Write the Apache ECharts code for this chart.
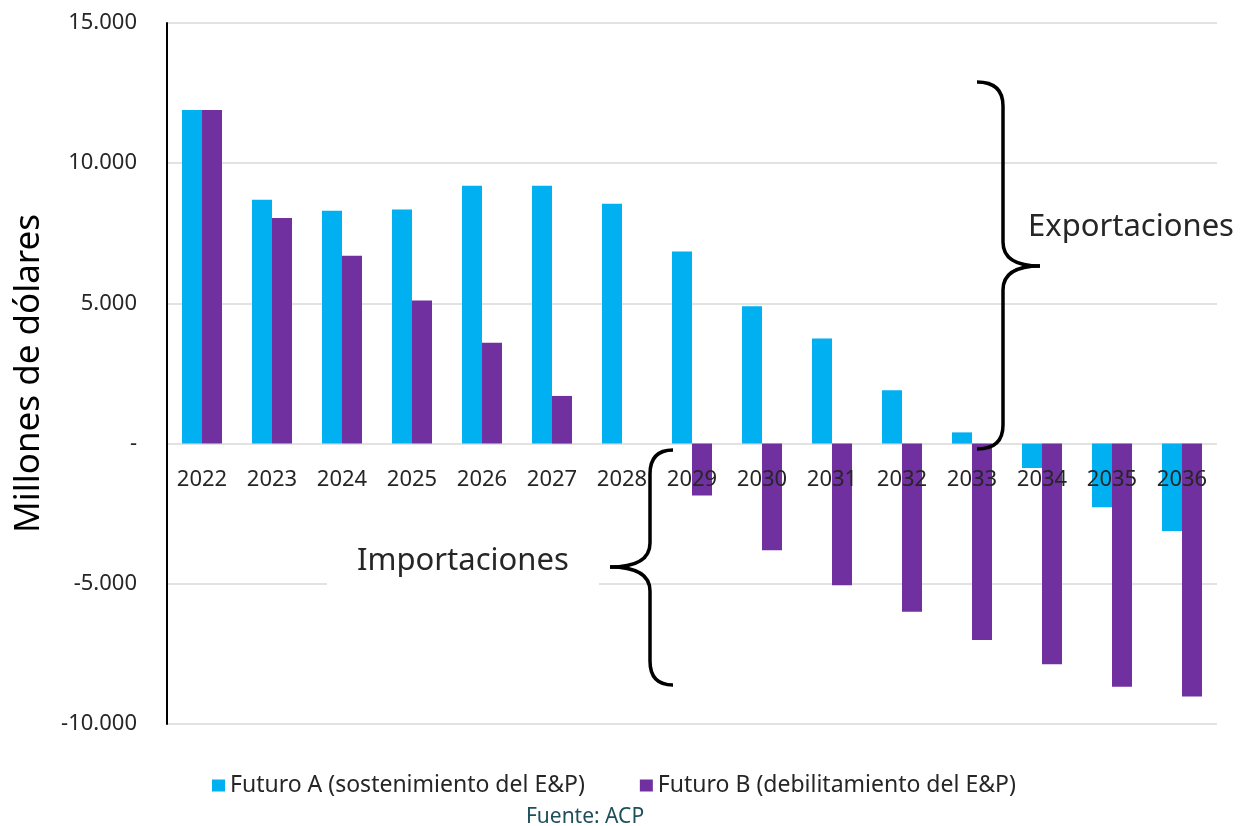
<!DOCTYPE html>
<html>
<head>
<meta charset="utf-8">
<title>Exportaciones / Importaciones</title>
<script src="https://cdn.jsdelivr.net/npm/echarts@6/dist/echarts.min.js"></script>
<style>
  html, body { margin: 0; padding: 0; background: #fff; }
  #chart { width: 1251px; height: 826px; }
</style>
</head>
<body>
<div id="chart"></div>
<script>
// datos (millones de dólares)
const years = ['2022', '2023', '2024', '2025', '2026', '2027', '2028', '2029',
  '2030', '2031', '2032', '2033', '2034', '2035', '2036'];
const futuroA = [11900, 8700, 8300, 8350, 9200, 9200, 8550, 6850,
  4900, 3750, 1900, 400, -870, -2270, -3120];
const futuroB = [11900, 8050, 6700, 5100, 3600, 1700, 0, -1850,
  -3800, -5050, -6000, -7000, -7870, -8670, -9020];
const seriesNames = ['Futuro A (sostenimiento del E&P)', 'Futuro B (debilitamiento del E&P)'];
const yTicks = [-10000, -5000, 0, 5000, 10000, 15000];
const yTickLabels = ['-10.000', '-5.000', '-', '5.000', '10.000', '15.000'];

const FONT = '"Noto Sans", "Open Sans", sans-serif';
const TEXT = '#262626';
const GRID = '#d9d9d9';

// llave: extremos en (xEnd, y0) y (xEnd, y1), barra vertical en xBar, punta en (xTip, yTip)
function brace(xEnd, xBar, xTip, y0, yTip, y1) {
  const r = 24;
  const st = { fill: 'none', stroke: '#000', lineWidth: 3.5 };
  const curve = (x1, y1_, cx, cy, x2, y2) => ({
    type: 'bezierCurve', z: 10, silent: true,
    shape: { x1: x1, y1: y1_, cpx1: cx, cpy1: cy, x2: x2, y2: y2 }, style: st
  });
  const line = (x1, y1_, x2, y2) => ({
    type: 'line', z: 10, silent: true,
    shape: { x1: x1, y1: y1_, x2: x2, y2: y2 }, style: st
  });
  return [
    curve(xEnd, y0, xBar, y0, xBar, y0 + r),
    line(xBar, y0 + r, xBar, yTip - r),
    curve(xBar, yTip - r, xBar, yTip, xTip, yTip),
    curve(xTip, yTip, xBar, yTip, xBar, yTip + r),
    line(xBar, yTip + r, xBar, y1 - r),
    curve(xBar, y1 - r, xBar, y1, xEnd, y1)
  ];
}

const chart = echarts.init(document.getElementById('chart'));

const option = {
  animation: false,
  backgroundColor: '#fff',
  textStyle: { fontFamily: FONT },
  grid: { left: 167, right: 34, top: 23, bottom: 102, containLabel: false },
  legend: {
    data: seriesNames,
    top: 769,
    left: 207,
    icon: 'rect',
    itemWidth: 13,
    itemHeight: 12,
    itemGap: 55,
    textStyle: { fontFamily: FONT, fontSize: 23, color: TEXT }
  },
  xAxis: {
    type: 'category',
    data: years,
    position: 'bottom',
    offset: 0,
    z: 5,
    axisTick: { show: false },
    axisLine: { show: false, onZero: false },
    axisLabel: { interval: 0, fontSize: 22, color: TEXT, margin: 25, fontFamily: FONT }
  },
  yAxis: {
    type: 'value',
    min: -10000,
    max: 15000,
    interval: 5000,
    name: 'Millones de dólares',
    nameLocation: 'middle',
    nameGap: 120,
    nameTextStyle: { fontSize: 35, color: '#000', fontFamily: FONT },
    axisLine: { show: true, onZero: false, lineStyle: { color: '#000', width: 2 } },
    axisTick: { show: false },
    splitLine: { lineStyle: { color: GRID, width: 1.5 } },
    axisLabel: {
      fontSize: 22,
      color: TEXT,
      margin: 30,
      fontFamily: FONT,
      formatter: (v) => yTickLabels[yTicks.indexOf(v)]
    }
  },
  series: [
    {
      name: seriesNames[0],
      type: 'bar',
      barWidth: 20,
      barGap: '0%',
      itemStyle: { color: '#00b0f0' },
      data: futuroA
    },
    {
      name: seriesNames[1],
      type: 'bar',
      barWidth: 20,
      itemStyle: { color: '#7030a0' },
      data: futuroB
    }
  ],
  graphic: [
    // fondo blanco detrás de "Importaciones"
    { type: 'rect', z: 5, silent: true, shape: { x: 327, y: 540, width: 272, height: 50 }, style: { fill: '#fff' } },
    {
      type: 'text', z: 10, x: 1028, y: 227, silent: true,
      style: { text: 'Exportaciones', fontSize: 31, fontFamily: FONT, fill: TEXT, verticalAlign: 'middle' }
    },
    {
      type: 'text', z: 10, x: 357, y: 561, silent: true,
      style: { text: 'Importaciones', fontSize: 31, fontFamily: FONT, fill: TEXT, verticalAlign: 'middle' }
    },
    ...brace(977, 1003, 1040, 82, 266, 449),
    ...brace(673, 650, 610, 450, 567, 685),
    {
      type: 'text', z: 10, x: 585, y: 817, silent: true,
      style: { text: 'Fuente: ACP', fontSize: 21, fontFamily: FONT, fill: '#1d4f5c', align: 'center', verticalAlign: 'middle' }
    }
  ]
};

chart.setOption(option);

// las etiquetas de años van junto a la línea del cero: se desplaza el eje x
// desde el borde inferior hasta la posición del valor 0 en el eje y
const yZero = chart.convertToPixel({ yAxisIndex: 0 }, 0);
const yBottom = chart.convertToPixel({ yAxisIndex: 0 }, -10000);
chart.setOption({ xAxis: { offset: -(yBottom - yZero) } });

window.addEventListener('resize', () => chart.resize());
</script>
</body>
</html>
